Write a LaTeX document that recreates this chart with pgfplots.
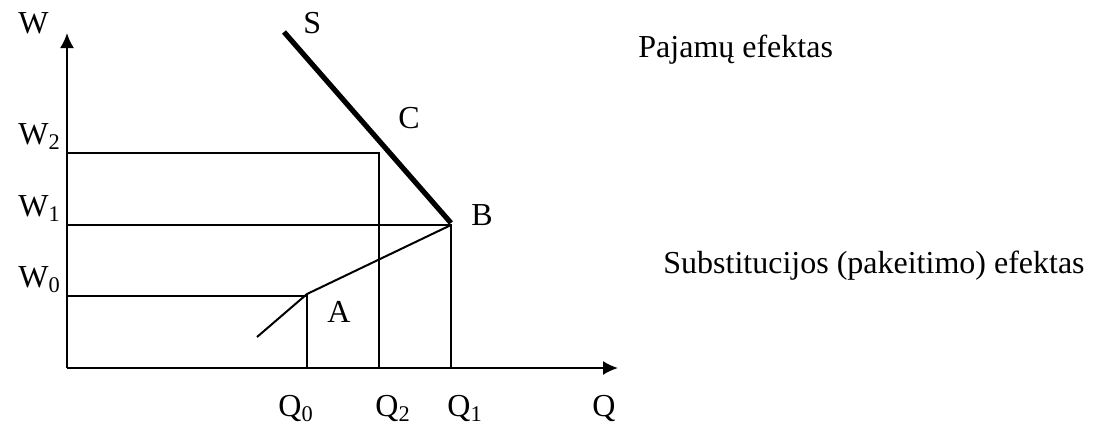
\documentclass[border=0pt]{standalone}
\usepackage{fontspec}
\setmainfont{Liberation Serif}
\usepackage{pgfplots}
\pgfplotsset{compat=1.18}
\usetikzlibrary{arrows.meta}
\begin{document}
\fontsize{16}{19}\selectfont
\begin{tikzpicture}
\begin{axis}[
    x=0.5pt, y=0.5pt,
    xmin=0, xmax=551, ymin=0, ymax=335,
    enlargelimits=false,
    axis lines=left,
    axis line style={line width=1pt, -{Latex[length=7.5pt,width=7pt]}},
    xtick=\empty, ytick=\empty,
    clip=false,
]
% picture frame
\path (axis cs:-67,-57) rectangle (axis cs:1034,368);
% level lines W2, W1, W0
\addplot[line width=1pt, mark=none] coordinates {(0,215) (312,215) (312,0)};
\addplot[line width=1pt, mark=none] coordinates {(0,143) (384,143) (384,0)};
\addplot[line width=1pt, mark=none] coordinates {(0,72) (240,72) (240,0)};
% backward bending path A-B
\addplot[line width=1pt, mark=none] coordinates {(190,31) (240,74) (384,143)};
% supply S
\addplot[line width=2.6pt, mark=none] coordinates {(217,336) (384,145)};
% labels
\begin{scope}[every node/.style={anchor=base west, inner sep=0pt}]
\node at (axis cs:-49,335) {W};
\node at (axis cs:-49,224) {W\textsubscript{2}};
\node at (axis cs:-49,152) {W\textsubscript{1}};
\node at (axis cs:-49,81) {W\textsubscript{0}};
\node at (axis cs:211,-48) {Q\textsubscript{0}};
\node at (axis cs:308,-48) {Q\textsubscript{2}};
\node at (axis cs:380,-48) {Q\textsubscript{1}};
\node at (axis cs:525,-48) {Q};
\node at (axis cs:236,335) {S};
\node at (axis cs:331,240) {C};
\node at (axis cs:404,143) {B};
\node at (axis cs:260,46) {A};
\node at (axis cs:571,311) {Pajamų efektas};
\node at (axis cs:596,95) {Substitucijos (pakeitimo) efektas};
\end{scope}
\end{axis}
\end{tikzpicture}
\end{document}
